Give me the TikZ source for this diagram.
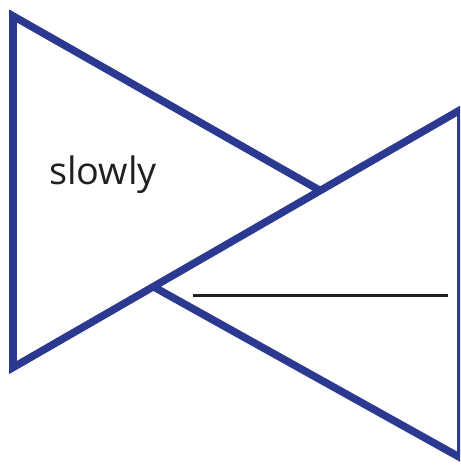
\documentclass[tikz,border=0pt]{standalone}
\usepackage{fontspec}
\setmainfont{Open Sans}
\usepackage{xcolor}
\definecolor{bowblue}{HTML}{2B3990}
\definecolor{inkgray}{HTML}{231F20}

\begin{document}
\begin{tikzpicture}
    [x=0.02cm,y=-0.02cm,
     outline/.style={draw=bowblue,line width=4.3pt,miter limit=10},
     rule/.style={draw=inkgray,line width=1.2pt}]
    \useasboundingbox (0,0) rectangle (460,465);
    \clip (0,0) rectangle (460,465);
    %both triangles, one stroke
    \draw[outline] (320,190.5)--(13,16)--(13,367.5)--(461,109.5)--(461,458)--(153,286.5);
    %blank line
    \draw[rule] (193,295.5)--(448,295.5);
    %word
    \node[anchor=base west,inner sep=0pt,text=inkgray,font=\fontsize{21.5}{25}\selectfont] (word) at (49,185) {slowly};
\end{tikzpicture}
\end{document}
